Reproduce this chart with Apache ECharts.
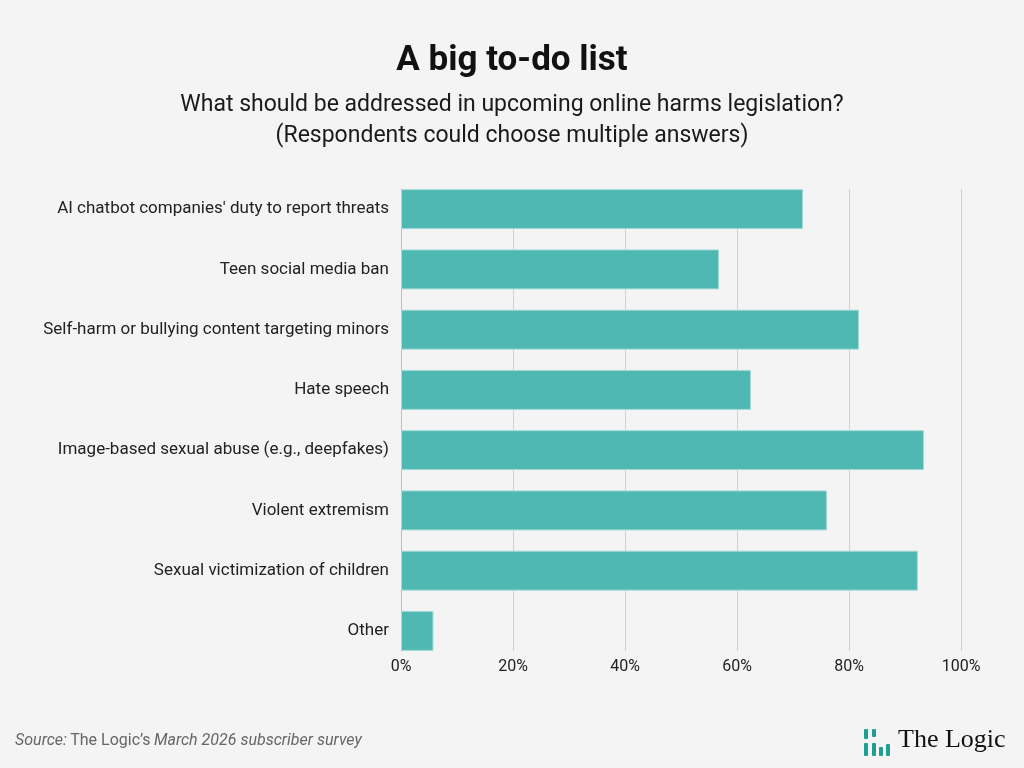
<!DOCTYPE html>
<html>
<head>
<meta charset="utf-8">
<script src="https://cdn.jsdelivr.net/npm/echarts@6/dist/echarts.min.js"></script>
<style>
  html, body { margin: 0; padding: 0; background: #f4f4f4; }
  #chart { width: 1024px; height: 768px; }
</style>
</head>
<body>
<div id="chart"></div>
<script>
// survey answers, top to bottom
const categories = [
  "AI chatbot companies' duty to report threats",
  'Teen social media ban',
  'Self-harm or bullying content targeting minors',
  'Hate speech',
  'Image-based sexual abuse (e.g., deepfakes)',
  'Violent extremism',
  'Sexual victimization of children',
  'Other'
]
const shares = [71.8, 56.8, 81.8, 62.5, 93.4, 76.1, 92.3, 5.8]
const xTicks = [0, 20, 40, 60, 80, 100]

const teal = '#4fb8b2'
const ink = '#222222'

const chart = echarts.init(document.getElementById('chart'), null, { renderer: 'canvas' })

const option = {
  backgroundColor: '#f4f4f4',
  textStyle: { fontFamily: 'Roboto' },
  title: [
    {
      text: 'A big to-do list',
      left: 'center',
      top: 39,
      textStyle: { fontFamily: 'Roboto', fontSize: 35, fontWeight: 'bold', color: '#111' }
    },
    {
      text: 'What should be addressed in upcoming online harms legislation?\n(Respondents could choose multiple answers)',
      left: 'center',
      top: 85,
      textStyle: { fontFamily: 'Roboto', fontSize: 23, fontWeight: 'normal', color: '#1a1a1a', lineHeight: 31, align: 'center' }
    }
  ],
  // grid 0: gridlines + tick labels, grid 1: the bars (bands reach past the lines)
  grid: [
    { left: 401, right: 63, top: 189, bottom: 768 - 651 },
    { left: 401, right: 63, top: 179, bottom: 768 - 661 }
  ],
  xAxis: [
    {
      gridIndex: 0,
      type: 'value',
      min: xTicks[0],
      max: xTicks[xTicks.length - 1],
      interval: 20,
      axisLine: { show: false },
      axisTick: { show: false },
      splitLine: { lineStyle: { color: '#d2d2d2', width: 1 } },
      axisLabel: { formatter: '{value}%', color: ink, fontSize: 16, margin: 8 }
    },
    {
      gridIndex: 1,
      type: 'value',
      min: 0,
      max: 100,
      show: false
    }
  ],
  yAxis: [
    {
      gridIndex: 0,
      type: 'category',
      data: categories,
      inverse: true,
      axisLine: { show: true, lineStyle: { color: '#bdbdbd', width: 1 } },
      axisTick: { show: false },
      axisLabel: { show: false }
    },
    {
      gridIndex: 1,
      type: 'category',
      data: categories,
      inverse: true,
      axisLine: { show: false },
      axisTick: { show: false },
      axisLabel: { color: ink, fontSize: 17, margin: 12 }
    }
  ],
  series: [
    {
      type: 'bar',
      xAxisIndex: 1,
      yAxisIndex: 1,
      data: shares,
      barWidth: 40,
      itemStyle: { color: teal, borderColor: '#a6dcd8', borderWidth: 1 },
      silent: true
    }
  ],
  graphic: [
    {
      type: 'text',
      left: 15,
      top: 733,
      style: {
        text: '{i|Source:} {n|The Logic’s} {i|March 2026 subscriber survey}',
        rich: {
          i: { fontFamily: 'Roboto', fontStyle: 'italic', fontSize: 16, fill: '#666' },
          n: { fontFamily: 'Roboto', fontSize: 16, fill: '#666' }
        }
      }
    },
    // logo mark
    { type: 'rect', shape: { x: 864, y: 729, width: 4, height: 10, r: 1 }, style: { fill: '#1f9e92' } },
    { type: 'rect', shape: { x: 864, y: 743, width: 4, height: 13, r: 1 }, style: { fill: '#1f9e92' } },
    { type: 'rect', shape: { x: 872, y: 729, width: 4, height: 8, r: 1 }, style: { fill: '#1f9e92' } },
    { type: 'rect', shape: { x: 872, y: 743, width: 4, height: 13, r: 1 }, style: { fill: '#1f9e92' } },
    { type: 'rect', shape: { x: 879, y: 747, width: 4, height: 9, r: 1 }, style: { fill: '#1f9e92' } },
    { type: 'rect', shape: { x: 886, y: 744, width: 4, height: 12, r: 1 }, style: { fill: '#1f9e92' } },
    {
      type: 'text',
      left: 898,
      top: 727,
      style: { text: 'The Logic', font: '26px "Liberation Serif"', fill: '#111' }
    }
  ]
}

chart.setOption(option)
</script>
</body>
</html>
